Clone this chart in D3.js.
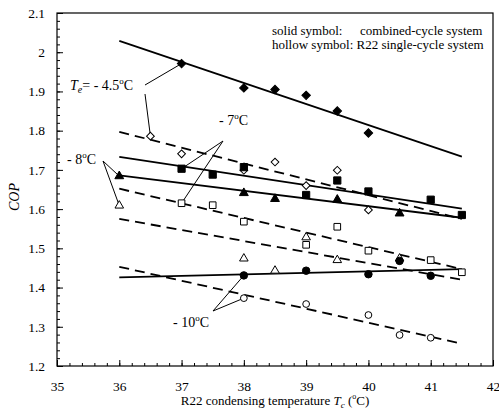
<!DOCTYPE html>
<html>
<head>
<meta charset="utf-8">
<script src="https://cdn.jsdelivr.net/npm/d3@7"></script>
<style>
  body { margin: 0; background: #fff; }
  #chart text { font-family: 'Liberation Serif', 'Times New Roman', Times, 'DejaVu Serif', serif !important; }
</style>
</head>
<body>
<svg id="chart" width="499" height="410"></svg>
<script>
// x = R22 condensing temperature, y = COP
const xTicks = [35, 36, 37, 38, 39, 40, 41, 42];
const yTicks = [1.2, 1.3, 1.4, 1.5, 1.6, 1.7, 1.8, 1.9, 2.0, 2.1];

// Te = -4.5 C
const comb45 = [[37, 1.971], [38, 1.909], [38.5, 1.905], [39, 1.890], [39.5, 1.850], [40, 1.794]];
const single45 = [[36.5, 1.786], [37, 1.741], [38, 1.699], [38.5, 1.720], [39, 1.660], [39.5, 1.699], [40, 1.598]];
// Te = -7 C
const comb7 = [[37, 1.703], [37.5, 1.688], [38, 1.707], [39, 1.636], [39.5, 1.673], [40, 1.645], [41, 1.624], [41.5, 1.585]];
const single7 = [[37, 1.615], [37.5, 1.610], [38, 1.568], [39, 1.509], [39.5, 1.555], [40, 1.494], [41, 1.470], [41.5, 1.439]];
// Te = -8 C
const comb8 = [[36, 1.684], [38, 1.641], [38.5, 1.626], [39.5, 1.624], [40.5, 1.589]];
const single8 = [[36, 1.609], [38, 1.474], [38.5, 1.443], [39, 1.528], [39.5, 1.470], [40.5, 1.474]];
// Te = -10 C
const comb10 = [[38, 1.431], [39, 1.443], [40, 1.434], [40.5, 1.468], [41, 1.430]];
const single10 = [[38, 1.373], [39, 1.358], [40, 1.330], [40.5, 1.279], [41, 1.272]];

// fitted lines, end points
const fitComb45 = [[36, 2.029], [41.5, 1.734]];
const fitSingle45 = [[36, 1.797], [41.5, 1.575]];
const fitComb7 = [[36, 1.733], [41.5, 1.601]];
const fitSingle7 = [[36, 1.652], [41.5, 1.447]];
const fitComb8 = [[36, 1.686], [41.5, 1.578]];
const fitSingle8 = [[36, 1.575], [41.5, 1.420]];
const fitComb10 = [[36, 1.426], [41.5, 1.447]];
const fitSingle10 = [[36, 1.453], [41.5, 1.257]];

const svg = d3.select('#chart');

const x = d3.scaleLinear().domain([35, 42]).range([57, 493]);
const y = d3.scaleLinear().domain([1.2, 2.1]).range([366, 13]);

// axes, ticks pointing inward
const minorX = d3.range(35, 42.001, 0.2);
const minorY = d3.range(1.2, 2.1001, 0.02);

svg.append('g')
  .attr('transform', `translate(0, ${y(1.2)})`)
  .call(d3.axisBottom(x).tickValues(minorX).tickSize(-3).tickFormat(''))
  .call((g) => g.select('.domain').remove());

svg.append('g')
  .attr('transform', `translate(${x(35)}, 0)`)
  .call(d3.axisLeft(y).tickValues(minorY).tickSize(-3).tickFormat(''))
  .call((g) => g.select('.domain').remove());

svg.append('g')
  .attr('transform', `translate(0, ${y(1.2)})`)
  .call(d3.axisBottom(x).tickValues(xTicks).tickSize(-6).tickPadding(15).tickFormat((d) => String(d)))
  .call((g) => g.select('.domain').remove())
  .attr('font-size', 13.5);

svg.append('g')
  .attr('transform', `translate(${x(35)}, 0)`)
  .call(d3.axisLeft(y).tickValues(yTicks).tickSize(-6).tickPadding(12)
    .tickFormat((d) => String(+d.toFixed(1))))
  .call((g) => g.select('.domain').remove())
  .attr('font-size', 13.5);

svg.selectAll('.tick line').attr('stroke', '#000');

// frame
svg.append('rect')
  .attr('x', x(35))
  .attr('y', y(2.1))
  .attr('width', x(42) - x(35))
  .attr('height', y(1.2) - y(2.1))
  .attr('fill', 'none')
  .attr('stroke', '#000')
  .attr('stroke-width', 1.2);

// fit lines
const line = d3.line().x((d) => x(d[0])).y((d) => y(d[1]));

const fits = [
  [fitComb45, false], [fitSingle45, true],
  [fitComb7, false], [fitSingle7, true],
  [fitComb8, false], [fitSingle8, true],
  [fitComb10, false], [fitSingle10, true]
];

fits.forEach(([pts, dashed]) => {
  svg.append('path')
    .attr('d', line(pts))
    .attr('fill', 'none')
    .attr('stroke', '#000')
    .attr('stroke-width', 1.8)
    .attr('stroke-dasharray', dashed ? '10,6' : null);
});

// leader lines for the labels (label anchor -> marker)
const leader = (x1, y1, pt) => {
  svg.append('line')
    .attr('x1', x1).attr('y1', y1)
    .attr('x2', x(pt[0])).attr('y2', y(pt[1]))
    .attr('stroke', '#000')
    .attr('stroke-width', 1);
};

leader(145, 85, comb45[0]);
leader(145, 94, single45[0]);
leader(223, 141, comb7[0]);
leader(223, 141, single7[0]);
leader(103, 161, comb8[0]);
leader(103, 161, single8[0]);
leader(213, 311, comb10[0]);
leader(213, 311, single10[0]);

// markers
const markerSets = [
  [comb45, d3.symbolSquare, 36, 45, true],
  [single45, d3.symbolSquare, 30, 45, false],
  [comb7, d3.symbolSquare, 52, 0, true],
  [single7, d3.symbolSquare, 44, 0, false],
  [comb8, d3.symbolTriangle, 34, 0, true],
  [single8, d3.symbolTriangle, 32, 0, false],
  [comb10, d3.symbolCircle, 44, 0, true],
  [single10, d3.symbolCircle, 36, 0, false]
];

markerSets.forEach(([pts, type, size, rot, solid]) => {
  svg.append('g')
    .selectAll('path')
    .data(pts)
    .enter()
    .append('path')
      .attr('d', d3.symbol().type(type).size(size))
      .attr('transform', (d) => `translate(${x(d[0])}, ${y(d[1])}) rotate(${rot})`)
      .attr('fill', solid ? '#000' : '#fff')
      .attr('stroke', '#000')
      .attr('stroke-width', 1);
});

// labels
const te = svg.append('text').attr('x', 70).attr('y', 90).attr('font-size', 14);
te.append('tspan').attr('font-style', 'italic').text('T');
te.append('tspan').attr('font-style', 'italic').attr('font-size', 10).attr('dy', 3).text('e');
te.append('tspan').attr('dy', -3).text('= - 4.5');
te.append('tspan').attr('font-size', 9).attr('dy', -6).text('o');
te.append('tspan').attr('dy', 6).text('C');

const degLabel = (lx, ly, txt) => {
  const t = svg.append('text').attr('x', lx).attr('y', ly).attr('font-size', 14);
  t.append('tspan').text(txt);
  t.append('tspan').attr('font-size', 9).attr('dy', -6).text('o');
  t.append('tspan').attr('dy', 6).text('C');
};

degLabel(219, 125, '- 7');
degLabel(67, 164, '- 8');
degLabel(173, 327, '- 10');

// legend text
svg.append('text').attr('x', 272).attr('y', 35).attr('font-size', 13).text('solid symbol:');
svg.append('text').attr('x', 360).attr('y', 35).attr('font-size', 13).text('combined-cycle system');
svg.append('text').attr('x', 272).attr('y', 49).attr('font-size', 13).text('hollow symbol: R22 single-cycle system');

// axis titles
svg.append('text')
  .attr('transform', 'translate(19, 197) rotate(-90)')
  .attr('text-anchor', 'middle')
  .attr('font-size', 14)
  .attr('font-style', 'italic')
  .text('COP');

const xt = svg.append('text')
  .attr('x', 275)
  .attr('y', 405)
  .attr('text-anchor', 'middle')
  .attr('font-size', 13);
xt.append('tspan').text('R22 condensing temperature ');
xt.append('tspan').attr('font-style', 'italic').text('T');
xt.append('tspan').attr('font-style', 'italic').attr('font-size', 9).attr('dy', 3).text('c');
xt.append('tspan').attr('dy', -3).text(' (');
xt.append('tspan').attr('font-size', 8).attr('dy', -6).text('o');
xt.append('tspan').attr('dy', 6).text('C)');
</script>
</body>
</html>
